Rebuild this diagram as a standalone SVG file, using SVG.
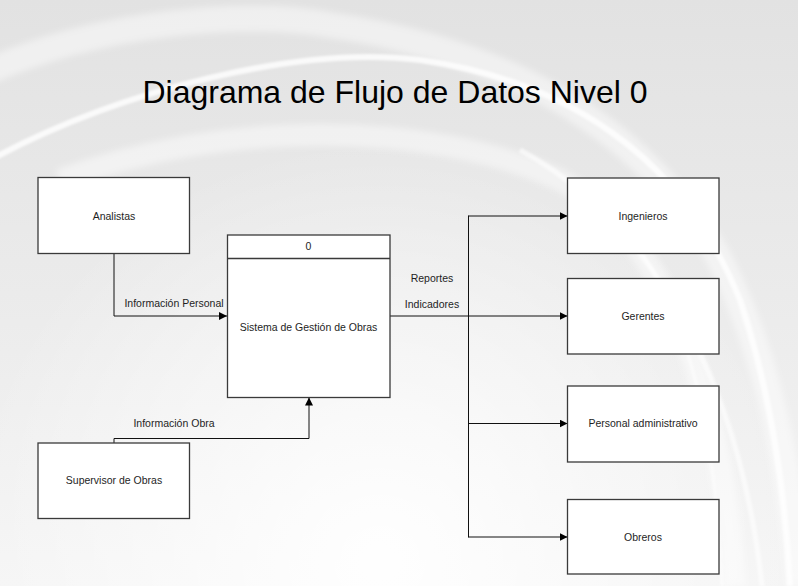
<svg xmlns="http://www.w3.org/2000/svg" width="798" height="586" viewBox="0 0 798 586">
  <defs>
    <linearGradient id="bg" x1="0" y1="0" x2="0" y2="1">
      <stop offset="0" stop-color="#e2e2e2"/>
      <stop offset="0.5" stop-color="#ebebeb"/>
      <stop offset="1" stop-color="#f5f5f5"/>
    </linearGradient>
    <radialGradient id="glow" cx="380" cy="560" r="420" gradientUnits="userSpaceOnUse">
      <stop offset="0" stop-color="#ffffff" stop-opacity="0.95"/>
      <stop offset="0.6" stop-color="#ffffff" stop-opacity="0.4"/>
      <stop offset="1" stop-color="#ffffff" stop-opacity="0"/>
    </radialGradient>
    <filter id="soft" x="-10%" y="-10%" width="120%" height="120%">
      <feGaussianBlur stdDeviation="3"/>
    </filter>
    <filter id="soft2" x="-10%" y="-10%" width="120%" height="120%">
      <feGaussianBlur stdDeviation="1"/>
    </filter>
    <marker id="arr" viewBox="0 0 10 10" refX="10" refY="5" markerWidth="8" markerHeight="8" markerUnits="userSpaceOnUse" orient="auto">
      <path d="M0,0 L10,5 L0,10 z" fill="#000"/>
    </marker>
    <style>
      .box { fill: #ffffff; stroke: #3a3a3a; stroke-width: 1.3; }
      .lbl { font-family: "Liberation Sans", Arial, sans-serif; font-size: 10.5px; fill: #1e1e1e; text-anchor: middle; }
      .ln { fill: none; stroke: #111; stroke-width: 1; }
      .sw { fill: none; stroke: #ffffff; }
    </style>
  </defs>

  <!-- background -->
  <rect x="0" y="0" width="798" height="586" fill="url(#bg)"/>
  <rect x="0" y="0" width="798" height="586" fill="url(#glow)"/>
  <g filter="url(#soft)">
    <path class="sw" d="M -20 75 C 100 20, 250 10, 330 25 C 500 50, 640 120, 720 260 C 770 360, 790 470, 800 586" stroke-width="26" stroke-opacity="0.45"/>
    <path class="sw" d="M 60 180 C 220 120, 430 120, 560 180 C 660 230, 720 380, 735 586" stroke-width="22" stroke-opacity="0.45"/>
  </g>
  <g filter="url(#soft2)">
    <path class="sw" d="M -10 160 C 120 90, 300 45, 420 60 C 560 80, 680 150, 740 300 C 770 390, 785 490, 790 586" stroke-width="6" stroke-opacity="0.8"/>
    <path class="sw" d="M 520 150 C 650 220, 740 380, 762 586" stroke-width="5" stroke-opacity="0.6"/>
    <path class="sw" d="M 600 200 C 690 290, 715 430, 722 586" stroke-width="3" stroke-opacity="0.5"/>
  </g>

  <!-- title -->
  <text x="395" y="103" font-family="Liberation Sans, Arial, sans-serif" font-size="32" fill="#000" text-anchor="middle">Diagrama de Flujo de Datos Nivel 0</text>

  <!-- connectors -->
  <g id="connectors">
    <path class="ln" d="M114 254 V316 H227" marker-end="url(#arr)"/>
    <path class="ln" d="M114 443 V438.5 H309 V397.5" marker-end="url(#arr)"/>
    <path class="ln" d="M390 316 H468.5" stroke-width="2"/>
    <path class="ln" d="M468.5 215.5 V537.5"/>
    <path class="ln" d="M468.5 216 H567.5" marker-end="url(#arr)"/>
    <path class="ln" d="M468.5 316 H567.5" marker-end="url(#arr)"/>
    <path class="ln" d="M468.5 423.5 H567.5" marker-end="url(#arr)"/>
    <path class="ln" d="M468.5 537 H567.5" marker-end="url(#arr)"/>
    <text class="lbl" x="174" y="307">Información Personal</text>
    <text class="lbl" x="174" y="427">Información Obra</text>
    <text class="lbl" x="432" y="282">Reportes</text>
    <text class="lbl" x="432" y="308">Indicadores</text>
  </g>

  <!-- nodes -->
  <g id="analistas">
    <rect class="box" x="38" y="177.5" width="151.5" height="76"/>
    <text class="lbl" x="114" y="219.5">Analistas</text>
  </g>
  <g id="supervisor">
    <rect class="box" x="38" y="443" width="151.5" height="75.5"/>
    <text class="lbl" x="114" y="484">Supervisor de Obras</text>
  </g>
  <g id="proceso">
    <rect class="box" x="227.5" y="235" width="162.5" height="162.5"/>
    <line x1="227.5" y1="258.5" x2="390" y2="258.5" stroke="#3a3a3a" stroke-width="1.3"/>
    <text class="lbl" x="308.5" y="250">0</text>
    <text class="lbl" x="308.5" y="331">Sistema de Gestión de Obras</text>
  </g>
  <g id="ingenieros">
    <rect class="box" x="567.5" y="178" width="151.5" height="75.5"/>
    <text class="lbl" x="643" y="220">Ingenieros</text>
  </g>
  <g id="gerentes">
    <rect class="box" x="567.5" y="278.5" width="151.5" height="75.5"/>
    <text class="lbl" x="643" y="320">Gerentes</text>
  </g>
  <g id="personal">
    <rect class="box" x="567.5" y="386" width="151.5" height="76"/>
    <text class="lbl" x="643" y="427">Personal administrativo</text>
  </g>
  <g id="obreros">
    <rect class="box" x="567.5" y="499.5" width="151.5" height="74.5"/>
    <text class="lbl" x="643" y="541">Obreros</text>
  </g>
</svg>
